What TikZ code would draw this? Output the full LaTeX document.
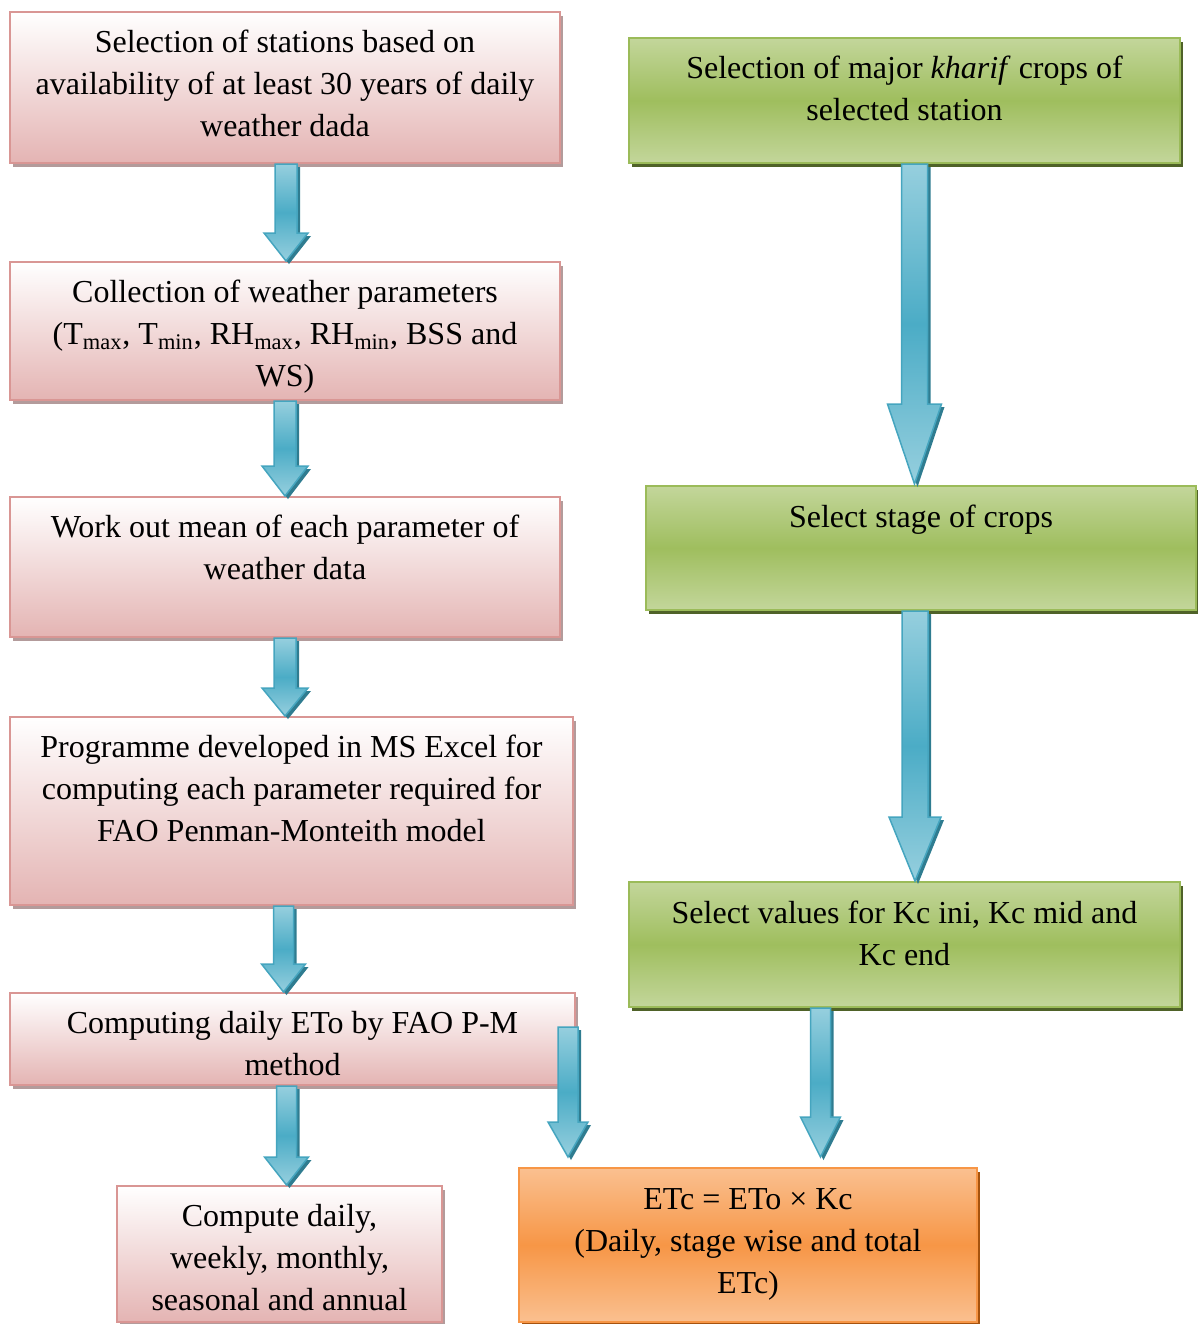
\documentclass[tikz,border=0pt]{standalone}
\usepackage{fontspec}
\setmainfont{Liberation Serif}
\usetikzlibrary{calc,fit,shadows}
\definecolor{pinkline}{HTML}{D99694}
\definecolor{pinkbot}{HTML}{E4B4B3}
\definecolor{pinkshade}{HTML}{B39B9B}
\definecolor{greenline}{HTML}{9BBB59}
\definecolor{greenlight}{HTML}{C3D69B}
\definecolor{greenmid}{HTML}{9FBE5E}
\definecolor{greenshade}{HTML}{4F6228}
\definecolor{orangeline}{HTML}{F79646}
\definecolor{orangelight}{HTML}{FAC090}
\definecolor{orangemid}{HTML}{F79646}
\definecolor{orangeshade}{HTML}{A6530E}
\definecolor{arrowlight}{HTML}{96CFDE}
\definecolor{arrowmid}{HTML}{4BACC6}
\definecolor{arrowline}{HTML}{45A5BF}
\definecolor{arrowshade}{HTML}{2F7C90}
\newcommand{\arrowpath}[7]{($(#1)+(-#3+#6,#7)$) -- ($(#1)+(#3+#6,#7)$) -- ($(#2)+(#3+#6,-#5+#7)$) -- ($(#2)+(#4+#6,-#5+#7)$) -- ($(#2)+(#6,#7)$) -- ($(#2)+(-#4+#6,-#5+#7)$) -- ($(#2)+(-#3+#6,-#5+#7)$) -- cycle}
\newcommand{\blockarrow}[5]{%
  \fill[arrowshadowstyle] \arrowpath{#1}{#2}{#3}{#4}{#5}{3}{3};
  \path[arrowbody] \arrowpath{#1}{#2}{#3}{#4}{#5}{0}{0};
}
\tikzset{
  boxbase/.style={inner sep=0pt, line width=1pt},
  pinkbox/.style={boxbase, draw=pinkline, top color=white, bottom color=pinkbot,
    drop shadow={shadow xshift=1.5pt, shadow yshift=-2pt, fill=pinkshade, opacity=1}},
  greenbox/.style={boxbase, draw=greenline, top color=greenlight, bottom color=greenlight, middle color=greenmid,
    drop shadow={shadow xshift=1.5pt, shadow yshift=-2pt, fill=greenshade, opacity=1}},
  orangebox/.style={boxbase, draw=orangeline, top color=orangelight, bottom color=orangelight, middle color=orangemid,
    drop shadow={shadow xshift=1.5pt, shadow yshift=-2pt, fill=orangeshade, opacity=1}},
  txt/.style={anchor=north, align=center, inner sep=0pt, font=\fontsize{16}{21}\selectfont},
  arrowbody/.style={draw=arrowline, line width=0.75pt, line join=miter, top color=arrowlight, bottom color=arrowlight, middle color=arrowmid},
  arrowshadowstyle/.style={fill=arrowshade},
}
\begin{document}
\begin{tikzpicture}[x=0.5pt, y=-0.5pt]
\useasboundingbox (0,0) rectangle (1198,1324);
% boxes
\node[pinkbox, fit={(10,12)(560,163)}] (b1) {};
\node[pinkbox, fit={(10,262)(560,400)}] (b2) {};
\node[pinkbox, fit={(10,497)(560,637)}] (b3) {};
\node[pinkbox, fit={(10,717)(573,905)}] (b4) {};
\node[pinkbox, fit={(10,993)(575,1085)}] (b5) {};
\node[pinkbox, fit={(117,1186)(442,1322)}] (b6) {};
\node[greenbox, fit={(629,38)(1180,163)}] (g1) {};
\node[greenbox, fit={(646,486)(1196,610)}] (g2) {};
\node[greenbox, fit={(629,882)(1180,1007)}] (g3) {};
\node[orangebox, fit={(519,1168)(977,1322)}] (ob) {};
% texts
\node[txt] (t1) at ($(b1.north)+(0,12)$) {\strut Selection of stations based on\\ availability of at least 30 years of daily\\ weather dada};
\node[txt] (t2) at ($(b2.north)+(0,12)$) {\strut Collection of weather parameters\\ (T\textsubscript{max}, T\textsubscript{min}, RH\textsubscript{max}, RH\textsubscript{min}, BSS and\\ WS)};
\node[txt] (t3) at ($(b3.north)+(0,12)$) {\strut Work out mean of each parameter of\\ weather data};
\node[txt] (t4) at ($(b4.north)+(0,12)$) {\strut Programme developed in MS Excel for\\ computing each parameter required for\\ FAO Penman-Monteith model};
\node[txt] (t5) at ($(b5.north)+(0,12)$) {\strut Computing daily ETo by FAO P-M\\ method};
\node[txt] (t6) at ($(b6.north)+(0,12)$) {\strut Compute daily,\\ weekly, monthly,\\ seasonal and annual};
\node[txt] (tg1) at ($(g1.north)+(0,12)$) {\strut Selection of major \textit{kharif} crops of\\ selected station};
\node[txt] (tg2) at ($(g2.north)+(0,13)$) {\strut Select stage of crops};
\node[txt] (tg3) at ($(g3.north)+(0,13)$) {\strut Select values for Kc ini, Kc mid and\\ Kc end};
\node[txt] (tob) at ($(ob.north)+(0,13)$) {\strut ETc = ETo × Kc\\ (Daily, stage wise and total\\ ETc)};
% arrow end points
\coordinate (a1s) at ($(b1.south)+(1,0)$);
\coordinate (a1e) at (a1s |- b2.north);
\coordinate (a2s) at ($(b2.south)+(0,0)$);
\coordinate (a2e) at (a2s |- b3.north);
\coordinate (a3s) at ($(b3.south)+(0,0)$);
\coordinate (a3e) at (a3s |- b4.north);
\coordinate (a4s) at ($(b4.south)+(-8,0)$);
\coordinate (a4e) at (a4s |- b5.north);
\coordinate (a5s) at ($(b5.south)+(-6,0)$);
\coordinate (a5e) at (a5s |- b6.north);
\coordinate (a6s) at ($(b5.north east)+(-8,35)$);
\coordinate (a6e) at ($(a6s |- ob.north)+(0,-10)$);
\coordinate (a7s) at ($(g1.south)+(10,0)$);
\coordinate (a7e) at ($(a7s |- g2.north)+(0,-1)$);
\coordinate (a8s) at ($(g2.south)+(-6,0)$);
\coordinate (a8e) at (a8s |- g3.north);
\coordinate (a9s) at ($(g3.south)+(-84,0)$);
\coordinate (a9e) at ($(a9s |- ob.north)+(0,-10)$);
% arrows
\blockarrow{a1s}{a1e}{11}{22}{28}
\blockarrow{a2s}{a2e}{11}{23}{30}
\blockarrow{a3s}{a3e}{11}{23}{28}
\blockarrow{a4s}{a4e}{10}{22}{28}
\blockarrow{a5s}{a5e}{10}{22}{28}
\blockarrow{a6s}{a6e}{10}{20}{35}
\blockarrow{a7s}{a7e}{13}{27}{80}
\blockarrow{a8s}{a8e}{13}{26}{64}
\blockarrow{a9s}{a9e}{10}{20}{40}
\end{tikzpicture}
\end{document}
